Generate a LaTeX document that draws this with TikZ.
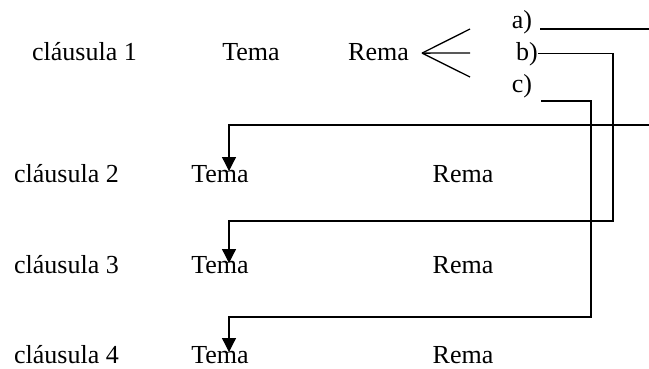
\documentclass[tikz,border=0pt]{standalone}
\usepackage{fontspec}
\setmainfont{Liberation Serif}
\usetikzlibrary{arrows.meta}
\tikzset{
  lbl/.style={anchor=base, inner sep=0pt, font=\fontsize{26}{30}\selectfont},
  conn/.style={line width=1.3pt},
  arr/.style={conn, -{Triangle[length=14pt,width=14pt]}},
}

\begin{document}
\begin{tikzpicture}[x=1pt,y=-1pt]
  \useasboundingbox (0,0) rectangle (649,368);
  % --- clause 1
  \node[lbl] (cl1) at (84.5,60) {cláusula 1};
  \node[lbl] (tema1) at (251,60) {Tema};
  \node[lbl] (rema1) at (378.5,60) {Rema};
  \node[lbl] (pa) at (522,28) {a)};
  \node[lbl] (pb) at (527,60) {b)};
  \node[lbl] (pc) at (522,92) {c)};
  % --- clauses 2 to 4
  \foreach \n/\y in {2/182,3/273,4/363}{
    \node[lbl] (cl\n) at (66.5,\y) {cláusula \n};
    \node[lbl] (tema\n) at (220,\y) {Tema};
    \node[lbl] (rema\n) at (463,\y) {Rema};
  }
  % --- fork after Rema
  \coordinate (fork) at ([xshift=13pt,yshift=-1.5pt]rema1.east);
  \foreach \yy in {29,53,77}
    \draw[conn] (fork) -- (470,\yy);
  % --- a) goes out right, comes back to clause 2
  \coordinate (aout) at (649,29);
  \coordinate (ain) at (649,125);
  \draw[conn] ([xshift=8pt]pa.east |- aout) -- (aout);
  \draw[arr] (ain) -| ([xshift=9pt,yshift=11pt]tema2.base);
  % --- b) to clause 3
  \coordinate (bturn) at (613,221);
  \draw[arr] (pb.east) -| (bturn) -| ([xshift=9pt,yshift=10pt]tema3.base);
  % --- c) to clause 4
  \coordinate (cstart) at (541,101);
  \coordinate (cturn) at (591,317);
  \draw[arr] (cstart) -| (cturn) -| ([xshift=9pt,yshift=11pt]tema4.base);
\end{tikzpicture}
\end{document}
